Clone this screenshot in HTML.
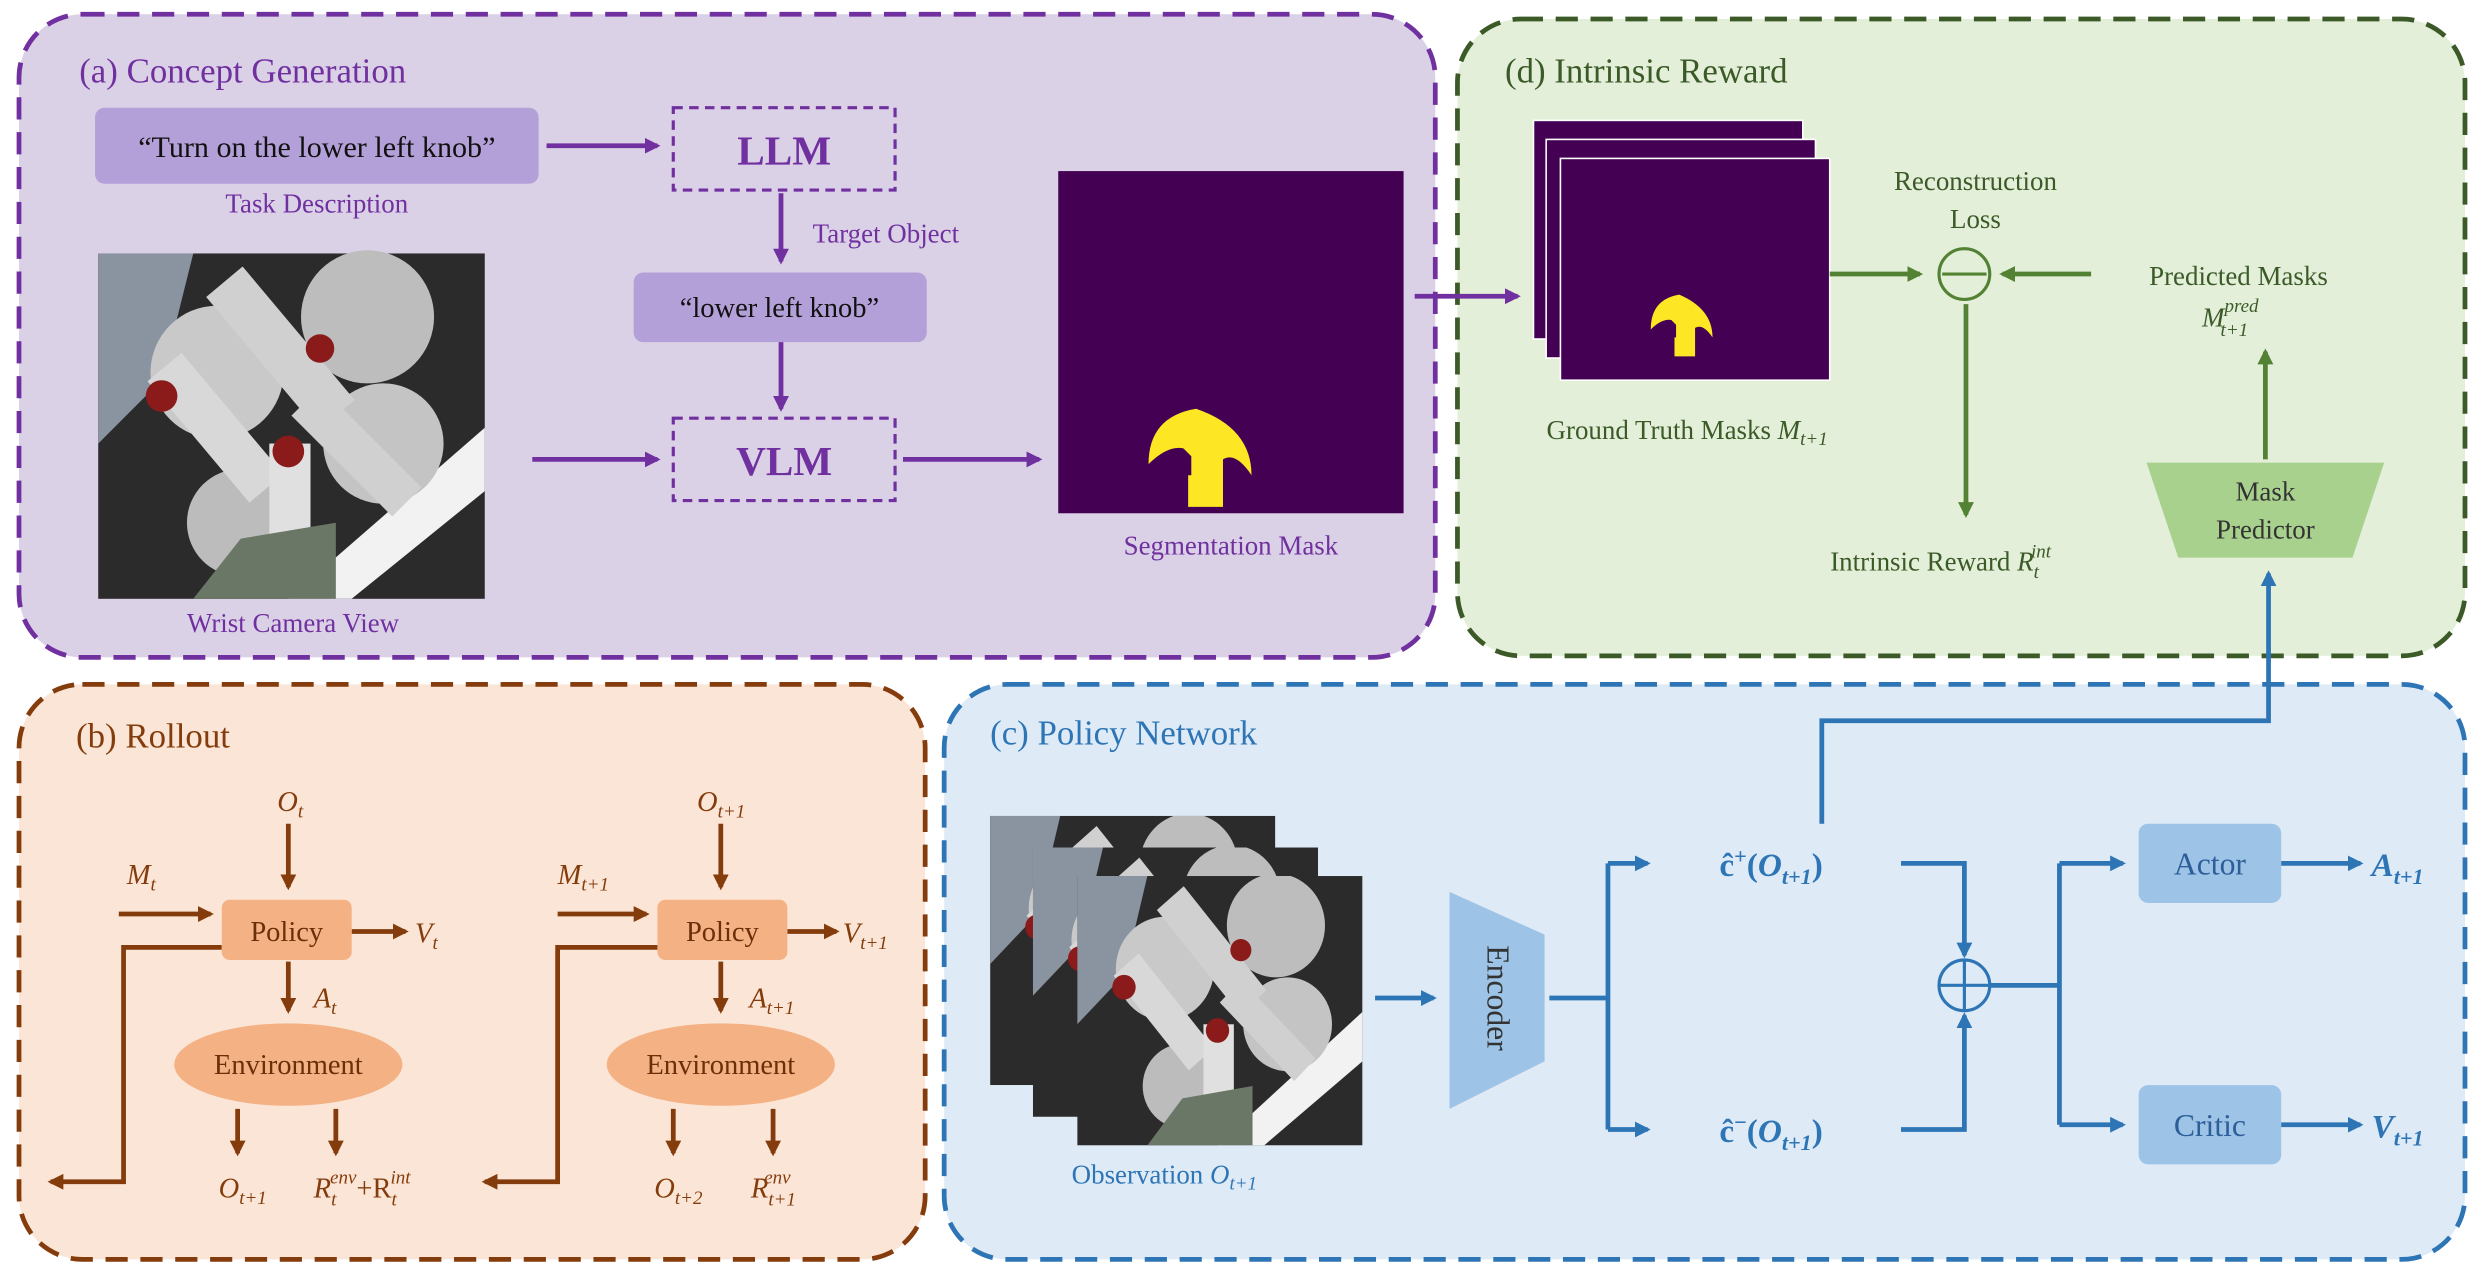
<!DOCTYPE html>
<html><head><meta charset="utf-8">
<style>
html,body{margin:0;padding:0;background:#fff;}
svg{display:block;}
text{font-family:"Liberation Serif",serif;}
</style></head>
<body>
<svg width="2484" height="1280" viewBox="0 0 1568 808" preserveAspectRatio="none" xmlns="http://www.w3.org/2000/svg">
<defs>
<marker id="ap" markerWidth="10" markerHeight="10" refX="8" refY="5" orient="auto" markerUnits="userSpaceOnUse"><path d="M0,0 L10,5 L0,10 z" fill="#7030a0"/></marker>
<marker id="ag" markerWidth="10" markerHeight="10" refX="8" refY="5" orient="auto" markerUnits="userSpaceOnUse"><path d="M0,0 L10,5 L0,10 z" fill="#548235"/></marker>
<marker id="ab" markerWidth="10" markerHeight="10" refX="8" refY="5" orient="auto" markerUnits="userSpaceOnUse"><path d="M0,0 L10,5 L0,10 z" fill="#2e75b6"/></marker>
<marker id="ao" markerWidth="10" markerHeight="10" refX="8" refY="5" orient="auto" markerUnits="userSpaceOnUse"><path d="M0,0 L10,5 L0,10 z" fill="#843c0c"/></marker>
<g id="cam">
<rect x="0" y="0" width="244" height="218" fill="#2b2b2b"/>
<polygon points="0,0 60,0 40,80 0,120" fill="#8a93a0"/>
<polygon points="120,218 244,110 244,150 160,218" fill="#f2f2f2"/>
<circle cx="75" cy="75" r="42" fill="#c9c9c9"/>
<circle cx="170" cy="40" r="42" fill="#bdbdbd"/>
<circle cx="180" cy="120" r="38" fill="#c4c4c4"/>
<circle cx="90" cy="170" r="34" fill="#bcbcbc"/>
<rect x="100" y="5" width="30" height="110" fill="#d0d0d0" transform="rotate(-40 115 60)"/>
<rect x="60" y="60" width="28" height="100" fill="#d8d8d8" transform="rotate(-40 74 110)"/>
<rect x="150" y="80" width="26" height="90" fill="#d0d0d0" transform="rotate(-45 163 125)"/>
<rect x="108" y="120" width="26" height="80" fill="#e0e0e0"/>
<circle cx="40" cy="90" r="10" fill="#8b1a1a"/>
<circle cx="140" cy="60" r="9" fill="#8b1a1a"/>
<circle cx="120" cy="125" r="10" fill="#8b1a1a"/>
<polygon points="60,218 90,180 150,170 150,218" fill="#6b7766"/>
</g>
<g id="mask">
<rect x="0" y="0" width="172" height="140" fill="#440154"/>
</g>
</defs>

<!-- Panel a -->
<rect x="12" y="9" width="894" height="406" rx="40" fill="#dbd1e6" stroke="#7030a0" stroke-width="3" stroke-dasharray="14,8"/>
<!-- Panel d -->
<rect x="920" y="12" width="636" height="402" rx="40" fill="#e3efd9" stroke="#3b5a27" stroke-width="3" stroke-dasharray="14,8"/>
<!-- Panel b -->
<rect x="12" y="432" width="572" height="363" rx="40" fill="#fbe5d6" stroke="#843c0c" stroke-width="3" stroke-dasharray="14,8"/>
<!-- Panel c -->
<rect x="596" y="432" width="960" height="363" rx="40" fill="#deebf7" stroke="#2e75b6" stroke-width="3" stroke-dasharray="14,8"/>

<!-- (a) -->
<text x="50" y="52" font-size="22" fill="#7030a0">(a) Concept Generation</text>
<rect x="60" y="68" width="280" height="48" rx="6" fill="#b4a0d8"/>
<text x="200" y="99" font-size="19" text-anchor="middle" fill="#111">“Turn on the lower left knob”</text>
<text x="200" y="134" font-size="17" text-anchor="middle" fill="#7030a0">Task Description</text>
<line x1="345" y1="92" x2="415" y2="92" stroke="#7030a0" stroke-width="3" marker-end="url(#ap)"/>
<rect x="425" y="68" width="140" height="52" fill="none" stroke="#7030a0" stroke-width="2" stroke-dasharray="6,4"/>
<text x="495" y="104" font-size="26" font-weight="bold" text-anchor="middle" fill="#7030a0">LLM</text>
<line x1="493" y1="122" x2="493" y2="165" stroke="#7030a0" stroke-width="3" marker-end="url(#ap)"/>
<text x="513" y="153" font-size="17" fill="#7030a0">Target Object</text>
<rect x="400" y="172" width="185" height="44" rx="6" fill="#b4a0d8"/>
<text x="492" y="200" font-size="18" text-anchor="middle" fill="#111">“lower left knob”</text>
<line x1="493" y1="216" x2="493" y2="258" stroke="#7030a0" stroke-width="3" marker-end="url(#ap)"/>
<rect x="425" y="264" width="140" height="52" fill="none" stroke="#7030a0" stroke-width="2" stroke-dasharray="6,4"/>
<text x="495" y="300" font-size="26" font-weight="bold" text-anchor="middle" fill="#7030a0">VLM</text>
<use href="#cam" x="62" y="160"/>
<text x="185" y="399" font-size="17" text-anchor="middle" fill="#7030a0">Wrist Camera View</text>
<line x1="336" y1="290" x2="415" y2="290" stroke="#7030a0" stroke-width="3" marker-end="url(#ap)"/>
<line x1="570" y1="290" x2="656" y2="290" stroke="#7030a0" stroke-width="3" marker-end="url(#ap)"/>
<rect x="668" y="108" width="218" height="216" fill="#440154"/>
<path d="M755,258 q-30,5 -30,35 q12,-12 22,-10 l5,5 v12 h-2 v20 h22 v-30 q8,-5 18,10 q0,-30 -35,-42 z" fill="#fde725"/>
<text x="777" y="350" font-size="17" text-anchor="middle" fill="#7030a0">Segmentation Mask</text>
<line x1="893" y1="187" x2="958" y2="187" stroke="#7030a0" stroke-width="3" marker-end="url(#ap)"/>

<!-- (d) -->
<text x="950" y="52" font-size="22" fill="#3b5a27">(d) Intrinsic Reward</text>
<rect x="968" y="76" width="170" height="138" fill="#440154" stroke="#fff" stroke-width="1"/>
<rect x="976" y="88" width="170" height="138" fill="#440154" stroke="#fff" stroke-width="1"/>
<rect x="985" y="100" width="170" height="140" fill="#440154" stroke="#fff" stroke-width="1"/>
<path d="M1060,186 q-18,3 -18,22 q7,-7 13,-6 l3,3 v8 h-1 v12 h13 v-18 q5,-3 11,6 q0,-18 -21,-27 z" fill="#fde725"/>
<text x="1065" y="277" font-size="17" text-anchor="middle" fill="#3b5a27">Ground Truth Masks <tspan font-style="italic">M</tspan><tspan font-size="12" dy="4" font-style="italic">t+1</tspan></text>
<line x1="1155" y1="173" x2="1212" y2="173" stroke="#548235" stroke-width="3" marker-end="url(#ag)"/>
<circle cx="1240" cy="173" r="16" fill="none" stroke="#548235" stroke-width="2"/>
<line x1="1226" y1="173" x2="1254" y2="173" stroke="#548235" stroke-width="2"/>
<text x="1247" y="120" font-size="17" text-anchor="middle" fill="#3b5a27">Reconstruction</text>
<text x="1247" y="144" font-size="17" text-anchor="middle" fill="#3b5a27">Loss</text>
<line x1="1320" y1="173" x2="1264" y2="173" stroke="#548235" stroke-width="3" marker-end="url(#ag)"/>
<text x="1413" y="180" font-size="17" text-anchor="middle" fill="#3b5a27">Predicted Masks</text>
<text x="1390" y="206" font-size="17" font-style="italic" fill="#3b5a27">M<tspan font-size="12" dy="-9">pred</tspan><tspan font-size="12" dx="-24" dy="15">t+1</tspan></text>
<line x1="1430" y1="290" x2="1430" y2="222" stroke="#548235" stroke-width="3" marker-end="url(#ag)"/>
<polygon points="1355,292 1505,292 1485,352 1375,352" fill="#a9d18e"/>
<text x="1430" y="316" font-size="17" text-anchor="middle" fill="#333">Mask</text>
<text x="1430" y="340" font-size="17" text-anchor="middle" fill="#333">Predictor</text>
<line x1="1241" y1="192" x2="1241" y2="325" stroke="#548235" stroke-width="3" marker-end="url(#ag)"/>
<text x="1225" y="360" font-size="17" text-anchor="middle" fill="#3b5a27">Intrinsic Reward  <tspan font-style="italic">R</tspan><tspan font-size="12" dy="5" font-style="italic">t</tspan><tspan font-size="12" dx="-5" dy="-13" font-style="italic">int</tspan></text>

<!-- (c) -->
<text x="625" y="470" font-size="22" fill="#2e75b6">(c) Policy Network</text>
<svg x="625" y="515" width="180" height="170" viewBox="0 0 244 218" preserveAspectRatio="none"><use href="#cam"/></svg>
<svg x="652" y="535" width="180" height="170" viewBox="0 0 244 218" preserveAspectRatio="none"><use href="#cam"/></svg>
<svg x="680" y="553" width="180" height="170" viewBox="0 0 244 218" preserveAspectRatio="none"><use href="#cam"/></svg>
<text x="735" y="747" font-size="17" text-anchor="middle" fill="#2e75b6">Observation <tspan font-style="italic">O</tspan><tspan font-size="12" dy="4" font-style="italic">t+1</tspan></text>
<line x1="868" y1="630" x2="905" y2="630" stroke="#2e75b6" stroke-width="3" marker-end="url(#ab)"/>
<polygon points="915,563 975,590 975,670 915,700" fill="#9dc3e6"/>
<text x="945" y="630" font-size="20" text-anchor="middle" fill="#333" transform="rotate(90 945 630)" dy="6">Encoder</text>
<polyline points="978,630 1015,630" fill="none" stroke="#2e75b6" stroke-width="3"/>
<line x1="1015" y1="545" x2="1015" y2="713" stroke="#2e75b6" stroke-width="3"/>
<line x1="1015" y1="545" x2="1040" y2="545" stroke="#2e75b6" stroke-width="3" marker-end="url(#ab)"/>
<line x1="1015" y1="713" x2="1040" y2="713" stroke="#2e75b6" stroke-width="3" marker-end="url(#ab)"/>
<text x="1118" y="553" font-size="21" font-weight="bold" text-anchor="middle" fill="#2e75b6">ĉ<tspan font-size="14" dy="-8">+</tspan><tspan dy="8">(</tspan><tspan font-style="italic">O</tspan><tspan font-size="14" dy="5" font-style="italic">t+1</tspan><tspan dy="-5">)</tspan></text>
<text x="1118" y="721" font-size="21" font-weight="bold" text-anchor="middle" fill="#2e75b6">ĉ<tspan font-size="14" dy="-8">−</tspan><tspan dy="8">(</tspan><tspan font-style="italic">O</tspan><tspan font-size="14" dy="5" font-style="italic">t+1</tspan><tspan dy="-5">)</tspan></text>
<polyline points="1200,545 1240,545 1240,603" fill="none" stroke="#2e75b6" stroke-width="3" marker-end="url(#ab)"/>
<polyline points="1200,713 1240,713 1240,641" fill="none" stroke="#2e75b6" stroke-width="3" marker-end="url(#ab)"/>
<circle cx="1240" cy="622" r="16" fill="none" stroke="#2e75b6" stroke-width="2"/>
<line x1="1224" y1="622" x2="1256" y2="622" stroke="#2e75b6" stroke-width="2"/>
<line x1="1240" y1="606" x2="1240" y2="638" stroke="#2e75b6" stroke-width="2"/>
<line x1="1256" y1="622" x2="1300" y2="622" stroke="#2e75b6" stroke-width="3"/>
<line x1="1300" y1="545" x2="1300" y2="710" stroke="#2e75b6" stroke-width="3"/>
<line x1="1300" y1="545" x2="1340" y2="545" stroke="#2e75b6" stroke-width="3" marker-end="url(#ab)"/>
<line x1="1300" y1="710" x2="1340" y2="710" stroke="#2e75b6" stroke-width="3" marker-end="url(#ab)"/>
<rect x="1350" y="520" width="90" height="50" rx="6" fill="#9dc3e6"/>
<text x="1395" y="552" font-size="20" text-anchor="middle" fill="#2e5e9a" font-family="Liberation Sans, sans-serif">Actor</text>
<rect x="1350" y="685" width="90" height="50" rx="6" fill="#9dc3e6"/>
<text x="1395" y="717" font-size="20" text-anchor="middle" fill="#2e5e9a" font-family="Liberation Sans, sans-serif">Critic</text>
<line x1="1440" y1="545" x2="1490" y2="545" stroke="#2e75b6" stroke-width="3" marker-end="url(#ab)"/>
<line x1="1440" y1="710" x2="1490" y2="710" stroke="#2e75b6" stroke-width="3" marker-end="url(#ab)"/>
<text x="1497" y="553" font-size="21" font-weight="bold" font-style="italic" fill="#2e75b6">A<tspan font-size="14" dy="5">t+1</tspan></text>
<text x="1497" y="718" font-size="21" font-weight="bold" font-style="italic" fill="#2e75b6">V<tspan font-size="14" dy="5">t+1</tspan></text>
<polyline points="1150,520 1150,455 1432,455 1432,362" fill="none" stroke="#2e75b6" stroke-width="3" marker-end="url(#ab)"/>

<!-- (b) -->
<text x="48" y="472" font-size="22" fill="#843c0c">(b) Rollout</text>
<g fill="#843c0c" font-size="18" font-style="italic">
<text x="175" y="512">O<tspan font-size="12" dy="4">t</tspan></text>
<text x="80" y="558">M<tspan font-size="12" dy="4">t</tspan></text>
<text x="262" y="595">V<tspan font-size="12" dy="4">t</tspan></text>
<text x="198" y="636">A<tspan font-size="12" dy="4">t</tspan></text>
<text x="138" y="756">O<tspan font-size="12" dy="4">t+1</tspan></text>
<text x="198" y="756">R<tspan font-size="12" dy="5">t</tspan><tspan font-size="12" dx="-4" dy="-14">env</tspan><tspan font-style="normal" font-size="18" dy="9">+R</tspan><tspan font-size="12" dy="5">t</tspan><tspan font-size="12" dx="-4" dy="-14">int</tspan></text>
<text x="440" y="512">O<tspan font-size="12" dy="4">t+1</tspan></text>
<text x="352" y="558">M<tspan font-size="12" dy="4">t+1</tspan></text>
<text x="532" y="595">V<tspan font-size="12" dy="4">t+1</tspan></text>
<text x="473" y="636">A<tspan font-size="12" dy="4">t+1</tspan></text>
<text x="413" y="756">O<tspan font-size="12" dy="4">t+2</tspan></text>
<text x="474" y="756">R<tspan font-size="12" dy="5">t+1</tspan><tspan font-size="12" dx="-20" dy="-14">env</tspan></text>
</g>
<g stroke="#843c0c" stroke-width="3" fill="none">
<line x1="182" y1="520" x2="182" y2="560" marker-end="url(#ao)"/>
<line x1="75" y1="577" x2="133" y2="577" marker-end="url(#ao)"/>
<line x1="222" y1="588" x2="256" y2="588" marker-end="url(#ao)"/>
<polyline points="140,598 78,598 78,746 32,746" marker-end="url(#ao)"/>
<line x1="182" y1="607" x2="182" y2="638" marker-end="url(#ao)"/>
<line x1="150" y1="700" x2="150" y2="728" marker-end="url(#ao)"/>
<line x1="212" y1="700" x2="212" y2="728" marker-end="url(#ao)"/>
<line x1="455" y1="520" x2="455" y2="560" marker-end="url(#ao)"/>
<line x1="352" y1="577" x2="408" y2="577" marker-end="url(#ao)"/>
<line x1="497" y1="588" x2="528" y2="588" marker-end="url(#ao)"/>
<polyline points="415,598 352,598 352,746 306,746" marker-end="url(#ao)"/>
<line x1="455" y1="607" x2="455" y2="638" marker-end="url(#ao)"/>
<line x1="425" y1="700" x2="425" y2="728" marker-end="url(#ao)"/>
<line x1="488" y1="700" x2="488" y2="728" marker-end="url(#ao)"/>
</g>
<rect x="140" y="568" width="82" height="38" rx="5" fill="#f4b183"/>
<text x="181" y="594" font-size="18" text-anchor="middle" fill="#6b2f0a">Policy</text>
<rect x="415" y="568" width="82" height="38" rx="5" fill="#f4b183"/>
<text x="456" y="594" font-size="18" text-anchor="middle" fill="#6b2f0a">Policy</text>
<ellipse cx="182" cy="672" rx="72" ry="26" fill="#f4b183"/>
<text x="182" y="678" font-size="18" text-anchor="middle" fill="#6b2f0a">Environment</text>
<ellipse cx="455" cy="672" rx="72" ry="26" fill="#f4b183"/>
<text x="455" y="678" font-size="18" text-anchor="middle" fill="#6b2f0a">Environment</text>
</svg>
</body></html>
